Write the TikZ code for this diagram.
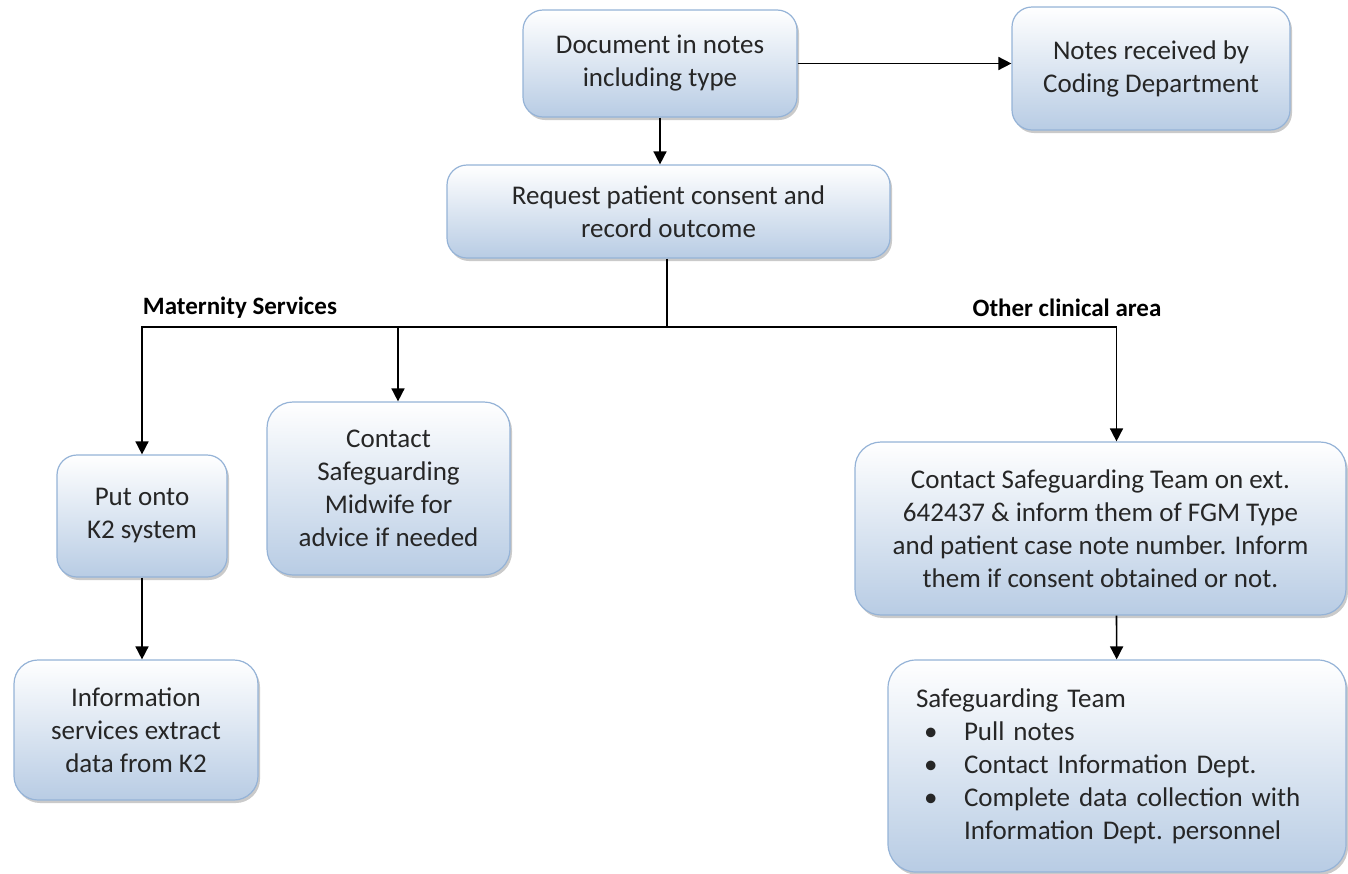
\documentclass[tikz,border=0pt]{standalone}
\usepackage{fontspec}
\setmainfont{Carlito}
\usetikzlibrary{arrows.meta,shadows}

\definecolor{boxline}{RGB}{149,179,215}
\definecolor{boxfill}{RGB}{184,204,228}

\tikzset{
  stepbox/.style={draw=boxline, line width=0.6pt, rounded corners=10pt,
    top color=white, bottom color=boxfill, align=center, inner sep=2pt,
    text=black!85, font=\fontsize{13.5}{16.5}\selectfont,
    drop shadow={shadow xshift=1pt, shadow yshift=-1.5pt, opacity=0.35, fill=black!60}},
  arr/.style={-{Triangle[length=6.5pt,width=6.5pt]}, line width=0.8pt},
  branch/.style={font=\fontsize{12.5}{15}\selectfont\bfseries}
}

\begin{document}
\begin{tikzpicture}[x=0.5pt,y=-0.5pt]
\useasboundingbox (0,0) rectangle (1348,873);

\node[stepbox, minimum width=137pt, minimum height=53.5pt] (doc) at (660,63.5) {Document in notes\\including type};
\node[stepbox, minimum width=139pt, minimum height=61.5pt] (notes) at (1151,68.5) {Notes received by\\Coding Department};
\node[stepbox, minimum width=221.5pt, minimum height=46.5pt] (req) at (668.5,211.5) {Request patient consent and\\record outcome};
\node[stepbox, minimum width=85pt, minimum height=61pt] (k2) at (142,516) {Put onto\\K2 system};
\node[stepbox, minimum width=121.5pt, minimum height=86.5pt, rounded corners=13pt] (mid) at (388.5,488.5) {Contact\\Safeguarding\\Midwife for\\advice if needed};
\node[stepbox, minimum width=122pt, minimum height=70pt, rounded corners=12pt] (info) at (136,730) {Information\\services extract\\data from K2};
\node[stepbox, minimum width=245.5pt, minimum height=86.5pt, rounded corners=13pt] (sgt) at (1100.5,528.5) {Contact Safeguarding Team on ext.\\642437 \& inform them of FGM Type\\and patient case note number. Inform\\them if consent obtained or not.};
\node[stepbox, minimum height=106pt, text width=201pt, inner xsep=14pt, align=left, rounded corners=14pt] (team) at (1117,766) {Safeguarding Team\\
  \makebox[24pt][l]{\hspace{4pt}\textbullet}Pull notes\\
  \makebox[24pt][l]{\hspace{4pt}\textbullet}Contact Information Dept.\\
  \makebox[24pt][l]{\hspace{4pt}\textbullet}Complete data collection with\\
  \hspace*{24pt}Information Dept.\ personnel};

\node[branch] (mat) at (240,308) {Maternity Services};
\node[branch] (other) at (1067,308) {Other clinical area};

\coordinate (hub) at (667,327);

\draw[arr] (doc) -- (doc -| notes.west);
\draw[arr] (doc) -- (doc |- req.north);
\draw[line width=0.8pt] (req.south -| hub) -- (hub);
\draw[arr] (hub) -| (k2);
\draw[arr] (hub) -| ([xshift=4.75pt]mid.north);
\draw[arr] (hub) -| ([xshift=8pt]sgt.north);
\draw[arr] (k2) -- (k2 |- info.north);
\draw[arr] ([xshift=8pt]sgt.south) -- (team);
\end{tikzpicture}
\end{document}
